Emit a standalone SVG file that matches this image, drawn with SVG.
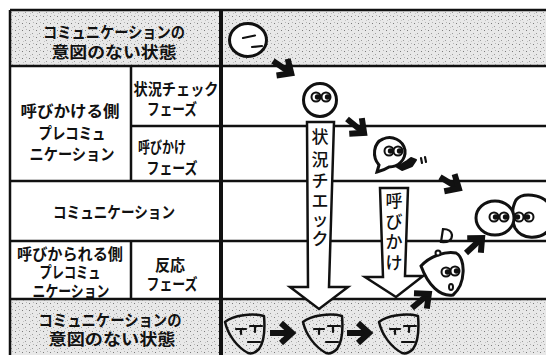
<svg xmlns="http://www.w3.org/2000/svg" xmlns:xlink="http://www.w3.org/1999/xlink" width="546" height="355" viewBox="0 0 546 355">
  <style>
    .lbl { font-family: "Noto Sans CJK JP", "Noto Sans", sans-serif; font-weight: bold; font-size: 16px; fill: #111; text-anchor: middle; dominant-baseline: central; }
    .vt { font-family: "Noto Sans CJK JP", "Noto Sans", sans-serif; font-weight: 500; font-size: 17px; fill: #111; text-anchor: middle; dominant-baseline: central; }
    .rule { stroke: #111; stroke-width: 2.5; fill: none; }
    .thick { stroke: #111; stroke-width: 4; fill: none; }
    .face { stroke: #111; stroke-width: 3; fill: #fff; }
    .mask { stroke: #111; stroke-width: 2.5; fill: none; stroke-linejoin: round; }
    .feat { stroke: #111; stroke-width: 2.2; fill: none; stroke-linecap: round; }
    .big { stroke: #111; stroke-width: 2.5; fill: #fff; stroke-linejoin: miter; }
  </style>
  <defs>
    <!-- stippled grey for the "no intention" rows -->
    <pattern id="halftone" width="7" height="7" patternUnits="userSpaceOnUse">
      <rect width="7" height="7" fill="#e8e8e8"/>
      <rect x="1" y="2" width="1" height="1" fill="#7a7a7a"/>
      <rect x="4" y="5" width="1" height="1" fill="#999"/>
      <rect x="5" y="1" width="1" height="1" fill="#b5b5b5"/>
      <rect x="2" y="6" width="1" height="1" fill="#c4c4c4"/>
    </pattern>
    <!-- short bold step arrow, pointing along +x -->
    <g id="bolt">
      <path d="M0,0 H21" stroke="#111" stroke-width="6" fill="none"/>
      <path d="M11,-10 L22,0 L11,10" stroke="#111" stroke-width="6" fill="none" stroke-linejoin="miter"/>
    </g>
    <!-- eyes: white ball with pupil to one side -->
    <g id="eyeR">
      <circle r="4.5" fill="#fff" stroke="#111" stroke-width="2"/>
      <circle cx="1.6" r="2.8" fill="#111"/>
    </g>
    <g id="eyeL">
      <circle r="4.5" fill="#fff" stroke="#111" stroke-width="2"/>
      <circle cx="-1.6" r="2.8" fill="#111"/>
    </g>
    <!-- blank mask face -->
    <g id="mask">
      <path class="mask" d="M2,9 C10,2 30,0 41,3 C42,15 42,28 36,36 C32,40 28,41 25,40 C14,34 5,22 2,9 Z"/>
      <path class="feat" d="M13,16 H23 M18,16 V21 M27,13 H39 M32,13 V19 M25,29 H37"/>
    </g>
  </defs>

  <!-- grey rows -->
  <rect x="10" y="10" width="536" height="56" fill="url(#halftone)"/>
  <rect x="10" y="299" width="536" height="56" fill="url(#halftone)"/>

  <!-- table grid -->
  <g id="grid">
    <path class="rule" d="M10,10 H546 M10,66 H546 M131,126 H546 M10,181 H546 M10,241 H546 M10,299 H546"/>
    <path class="rule" d="M10,10 V355 M131,66 V181 M131,241 V299"/>
    <path class="thick" d="M221,10 V355"/>
  </g>

  <!-- row labels -->
  <g id="row-idle-top">
    <text class="lbl"><tspan x="114" y="31" textLength="142" lengthAdjust="spacingAndGlyphs">コミュニケーションの</tspan><tspan x="114" y="51" textLength="125" lengthAdjust="spacingAndGlyphs">意図のない状態</tspan></text>
  </g>
  <g id="row-caller">
    <text class="lbl"><tspan x="70" y="110" textLength="99" lengthAdjust="spacingAndGlyphs">呼びかける側</tspan><tspan x="72" y="132" textLength="67" lengthAdjust="spacingAndGlyphs">プレコミュ</tspan><tspan x="72" y="153" textLength="85" lengthAdjust="spacingAndGlyphs">ニケーション</tspan></text>
  </g>
  <g id="phase-check">
    <text class="lbl"><tspan x="176" y="88" textLength="85" lengthAdjust="spacingAndGlyphs">状況チェック</tspan><tspan x="172" y="108" textLength="50" lengthAdjust="spacingAndGlyphs">フェーズ</tspan></text>
  </g>
  <g id="phase-call">
    <text class="lbl"><tspan x="162" y="146" textLength="48" lengthAdjust="spacingAndGlyphs">呼びかけ</tspan><tspan x="172" y="167" textLength="51" lengthAdjust="spacingAndGlyphs">フェーズ</tspan></text>
  </g>
  <g id="row-communication">
    <text class="lbl" x="114" y="211" textLength="122" lengthAdjust="spacingAndGlyphs">コミュニケーション</text>
  </g>
  <g id="row-callee">
    <text class="lbl"><tspan x="70" y="253" textLength="106" lengthAdjust="spacingAndGlyphs">呼びかられる側</tspan><tspan x="70" y="271" textLength="61" lengthAdjust="spacingAndGlyphs">プレコミュ</tspan><tspan x="71" y="290" textLength="77" lengthAdjust="spacingAndGlyphs">ニケーション</tspan></text>
  </g>
  <g id="phase-response">
    <text class="lbl"><tspan x="170" y="264" textLength="30" lengthAdjust="spacingAndGlyphs">反応</tspan><tspan x="172" y="283" textLength="51" lengthAdjust="spacingAndGlyphs">フェーズ</tspan></text>
  </g>
  <g id="row-idle-bottom">
    <text class="lbl"><tspan x="110" y="319" textLength="143" lengthAdjust="spacingAndGlyphs">コミュニケーションの</tspan><tspan x="112" y="338" textLength="127" lengthAdjust="spacingAndGlyphs">意図のない状態</tspan></text>
  </g>

  <!-- long phase arrows -->
  <g id="arrow-check">
    <path class="big" d="M307,122 L334,122 L329,287 L348,287 L319,309 L290,287 L308,287 Z"/>
    <text class="vt"><tspan x="320" y="135">状</tspan><tspan x="320" y="158">況</tspan><tspan x="320" y="179">チ</tspan><tspan x="320" y="199">エ</tspan><tspan x="320" y="218">ッ</tspan><tspan x="320" y="237">ク</tspan></text>
  </g>
  <g id="arrow-call">
    <path class="big" d="M380,188 L408,188 L405,276 L423,276 L396,297 L365,277 L383,277 Z"/>
    <text class="vt"><tspan x="394" y="199">呼</tspan><tspan x="394" y="220">び</tspan><tspan x="394" y="240">か</tspan><tspan x="394" y="261">け</tspan></text>
  </g>

  <!-- step arrows -->
  <g id="connectors">
    <use xlink:href="#bolt" transform="translate(273,61) rotate(34)"/>
    <use xlink:href="#bolt" transform="translate(347,119) rotate(39)"/>
    <use xlink:href="#bolt" transform="translate(440,177) rotate(31)"/>
    <use xlink:href="#bolt" transform="translate(466,253) rotate(-43)"/>
    <use xlink:href="#bolt" transform="translate(412,308) rotate(-40)"/>
    <use xlink:href="#bolt" transform="translate(270,333)"/>
    <use xlink:href="#bolt" transform="translate(347,333)"/>
  </g>

  <!-- idle face -->
  <g id="face-idle">
    <ellipse class="face" cx="248" cy="40" rx="18.5" ry="16.5"/>
    <path class="feat" stroke-width="3" d="M243,38 L255,35.5 M252,47 L262,46"/>
  </g>

  <!-- looking around -->
  <g id="face-check">
    <circle class="face" cx="320" cy="100" r="16.5"/>
    <use xlink:href="#eyeR" x="316" y="97"/>
    <use xlink:href="#eyeR" x="326" y="97"/>
  </g>

  <!-- calling out -->
  <g id="face-call">
    <path class="face" d="M379,165 C372,157 373,143 383,139 C392,135 403,140 405,150 C406,160 398,167 389,167 C386,169 381,171 377,172 Z"/>
    <use xlink:href="#eyeR" x="389" y="151"/>
    <use xlink:href="#eyeR" x="398" y="151"/>
    <path d="M397,167 L407,161 L411,158 L416,160 L412,166 L402,170 Z" fill="#111" stroke="#111" stroke-width="2" stroke-linejoin="round"/>
    <path class="feat" stroke-width="2.5" d="M421,158 L422,163 M425,157 L426,162"/>
  </g>

  <!-- meeting faces -->
  <g id="face-meet">
    <path class="face" stroke-width="2.5" d="M516,200 C522,192 542,194 549,204 L549,230 C540,240 522,240 515,228 C511,220 512,207 516,200 Z"/>
    <ellipse class="face" cx="495" cy="218" rx="19" ry="17"/>
    <use xlink:href="#eyeR" x="494" y="217"/>
    <use xlink:href="#eyeR" x="504" y="217"/>
    <use xlink:href="#eyeL" x="519" y="217"/>
    <use xlink:href="#eyeL" x="529" y="217"/>
  </g>

  <!-- responding face -->
  <g id="face-response">
    <path class="face" stroke-width="2.5" d="M421,266 C430,256 445,251 456,253 C466,258 466,284 453,295 C440,297 428,285 421,266 Z"/>
    <circle cx="438" cy="253" r="2.5" fill="#fff" stroke="#111" stroke-width="2"/>
    <path class="feat" stroke-width="2.5" d="M443,229 L441,242 Q452,243 452,235 Q451,229 443,229 Z"/>
    <use xlink:href="#eyeR" x="446" y="272"/>
    <use xlink:href="#eyeR" x="455" y="271"/>
    <ellipse cx="451" cy="287" rx="2" ry="3" fill="none" stroke="#111" stroke-width="2"/>
  </g>

  <!-- idle masks -->
  <g id="mask-1"><use xlink:href="#mask" x="223" y="313"/></g>
  <g id="mask-2"><use xlink:href="#mask" x="301" y="313"/></g>
  <g id="mask-3"><use xlink:href="#mask" x="377" y="313"/></g>
</svg>
